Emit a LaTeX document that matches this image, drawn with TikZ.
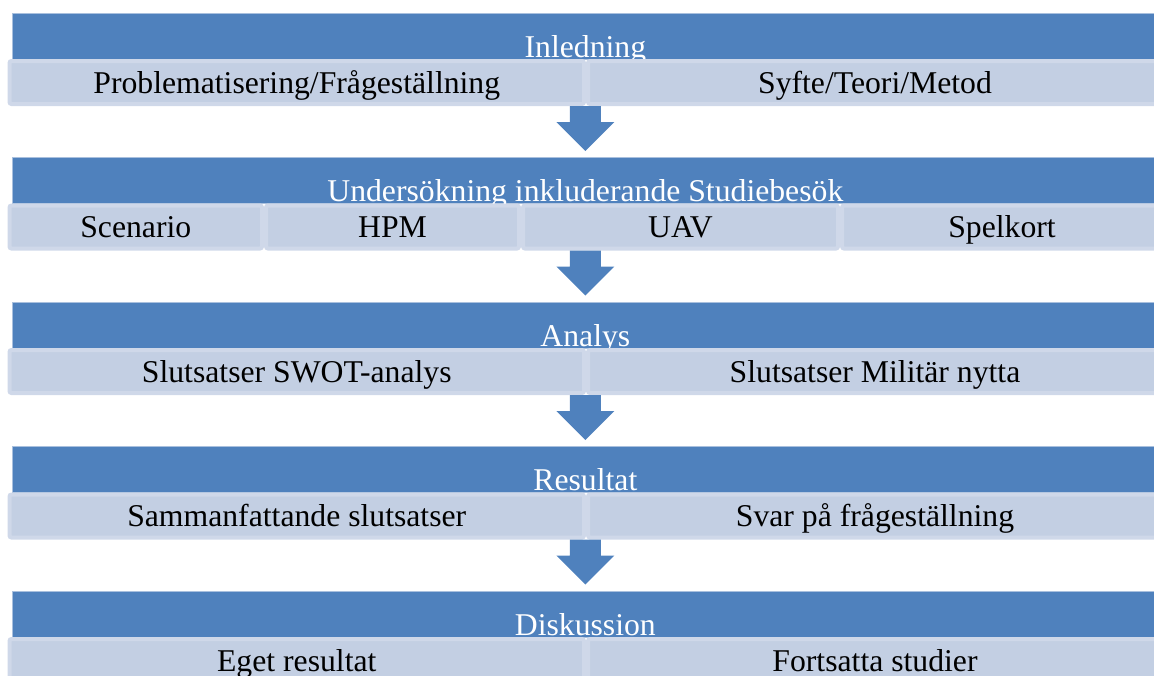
\documentclass[tikz,border=0pt]{standalone}
\usepackage{fontspec}
\setmainfont{Liberation Serif}
\usetikzlibrary{positioning,calc}

\definecolor{barblue}{HTML}{4F81BD}
\definecolor{barline}{HTML}{A9C0DE}
\definecolor{subfill}{HTML}{C3CFE3}
\definecolor{subline}{HTML}{CFD8E9}

\begin{document}
\begin{tikzpicture}[x=0.5pt,y=-0.5pt,
	bar/.style={fill=barblue, draw=barline, line width=0.4pt, minimum width=572.6pt, minimum height=23pt, inner sep=0pt, text=white, font=\fontsize{15.85}{18}\selectfont, text height=21pt, text depth=0pt},
	subbox/.style={fill=subfill, draw=subline, line width=2pt, rounded corners=1pt, minimum height=21.5pt, inner sep=0pt, font=\fontsize{15.85}{18}\selectfont, text height=10.5pt, text depth=0pt},
	blockarrow/.pic={\fill[barblue] (-15.5,0) -- (15.5,0) -- (15.5,16) -- (29,16) -- (0,45) -- (-29,16) -- (-15.5,16) -- cycle;}]
			\begingroup
			\useasboundingbox (0,0) rectangle (1154,675);
			
			% Inledning
			\node[bar] (inl) at (585.35, 36) {Inledning};
			\node[subbox, minimum width=287.25pt] (pro) at (296.75, 82.5) {Problematisering/Frågeställning};
			\node[subbox, minimum width=287pt] (syf) at (875, 82.5) {Syfte/Teori/Metod};
			\pic at (inl.south |- pro.south) {blockarrow};
			
			% Undersokning
			\node[bar] (und) at (585.35, 180.5) {Undersökning inkluderande Studiebesök};
			\node[subbox, minimum width=126.25pt] (sce) at (135.75, 227) {Scenario};
			\node[subbox, minimum width=126.5pt] (hpm) at (392.5, 227) {HPM};
			\node[subbox, minimum width=157.5pt] (uav) at (680.5, 227) {UAV};
			\node[subbox, minimum width=160pt] (spe) at (1002, 227) {Spelkort};
			\pic at (und.south |- sce.south) {blockarrow};
			
			% Analys
			\node[bar] (ana) at (585.35, 325) {Analys};
			\node[subbox, minimum width=287.25pt] (swo) at (296.75, 371.5) {Slutsatser SWOT-analys};
			\node[subbox, minimum width=287pt] (mil) at (875, 371.5) {Slutsatser Militär nytta};
			\pic at (ana.south |- swo.south) {blockarrow};
			
			% Resultat
			\node[bar] (res) at (585.35, 469.5) {Resultat};
			\node[subbox, minimum width=287.25pt] (sam) at (296.75, 516) {Sammanfattande slutsatser};
			\node[subbox, minimum width=287pt] (sva) at (875, 516) {Svar på frågeställning};
			\pic at (res.south |- sam.south) {blockarrow};
			
			% Diskussion
			\node[bar] (dis) at (585.35, 614) {Diskussion};
			\node[subbox, minimum width=287.25pt] (ege) at (296.75, 660.5) {Eget resultat};
			\node[subbox, minimum width=287pt] (fort) at (875, 660.5) {Fortsatta studier};
			
			\endgroup
\end{tikzpicture}
\end{document}
